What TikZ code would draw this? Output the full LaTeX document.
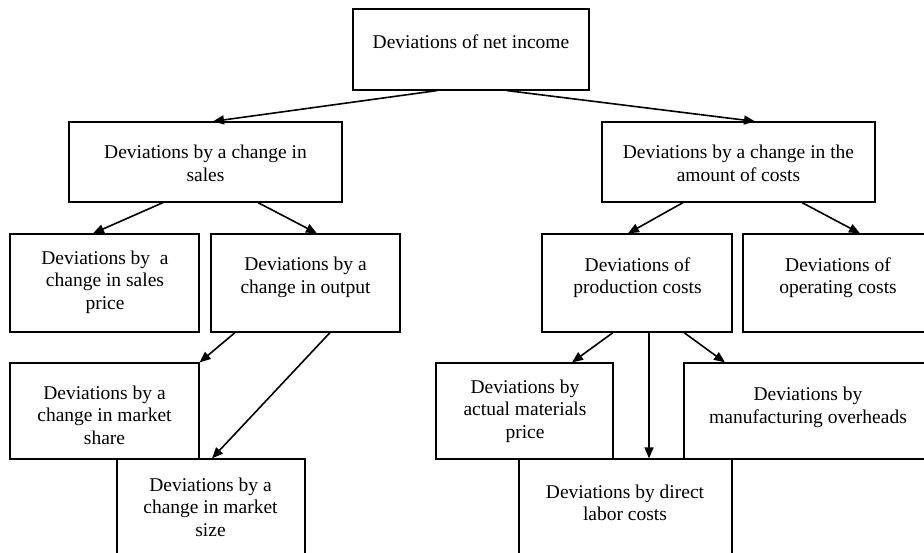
\documentclass[tikz,border=0pt]{standalone}
\usepackage{fontspec}
\setmainfont{Liberation Serif}
\usetikzlibrary{arrows.meta}
\tikzset{
  box/.style={draw, line width=1.2pt, inner sep=0pt, rectangle},
  txt/.style={align=center, inner sep=0pt, font=\fontsize{19.5}{22.5}\selectfont},
  arr/.style={line width=1.6pt, -{Triangle[length=11pt,width=9pt]}},
}
\begin{document}
\begin{tikzpicture}[x=1pt,y=-1pt]
\clip (0,0) rectangle (924,553);
\fill[white] (0,0) rectangle (924,553);
% boxes
\node[box, minimum width=236, minimum height=81] (top) at (471,49.5) {};
\node[box, minimum width=273, minimum height=80] (sales) at (205.5,162) {};
\node[box, minimum width=273, minimum height=80] (costs) at (738.5,162) {};
\node[box, minimum width=189, minimum height=98] (price) at (104.5,283) {};
\node[box, minimum width=189, minimum height=98] (output) at (305.5,283) {};
\node[box, minimum width=190, minimum height=98] (prod) at (637,283) {};
\node[box, minimum width=190, minimum height=98] (oper) at (838,283) {};
\node[box, minimum width=189, minimum height=96] (share) at (104.5,411) {};
\node[box, minimum width=188, minimum height=111] (size) at (211,514.5) {};
\node[box, minimum width=177, minimum height=96] (mat) at (524.5,411) {};
\node[box, minimum width=248, minimum height=96] (over) at (808,411) {};
\node[box, minimum width=213, minimum height=111] (labor) at (625.5,514.5) {};
% texts
\node[txt] (ttop) at (471,42) {Deviations of net income};
\node[txt] (tsales) at (205.5,163.5) {Deviations by a change in\\sales};
\node[txt] (tcosts) at (738.5,163.5) {Deviations by a change in the\\amount of costs};
\node[txt] (tprice) at (105,282) {Deviations by\ \ a\\change in sales\\price};
\node[txt] (toutput) at (305.5,277.5) {Deviations by a\\change in output};
\node[txt] (tprod) at (637.5,277.5) {Deviations of\\production costs};
\node[txt] (toper) at (838,277.5) {Deviations of\\operating costs};
\node[txt] (tshare) at (104.5,415) {Deviations by a\\change in market\\share};
\node[txt] (tsize) at (210.5,507) {Deviations by a\\change in market\\size};
\node[txt] (tmat) at (525,411) {Deviations by\\actual materials\\price};
\node[txt] (tover) at (808,407.5) {Deviations by\\manufacturing overheads};
\node[txt] (tlabor) at (625,503) {Deviations by direct\\labor costs};
% connectors
\draw[arr] ([xshift=-34pt]top.south) -- ([xshift=7.5pt]sales.north);
\draw[arr] ([xshift=36pt]top.south) -- ([xshift=16.5pt]costs.north);
\draw[arr] ([xshift=-42.5pt]sales.south) -- ([xshift=-11.5pt]price.north);
\draw[arr] ([xshift=52.5pt]sales.south) -- ([xshift=11.5pt]output.north);
\draw[arr] ([xshift=-55.5pt]costs.south) -- ([xshift=-9pt]prod.north);
\draw[arr] ([xshift=63.5pt]costs.south) -- ([xshift=22pt]oper.north);
\draw[arr] ([xshift=-70.5pt]output.south) -- (share.north east);
\draw[arr] ([xshift=24.5pt]output.south) -- ([xshift=1pt]size.north);
\draw[arr] ([xshift=-24pt]prod.south) -- ([xshift=47.5pt]mat.north);
\draw[arr] ([xshift=12pt]prod.south) -- ([xshift=23.5pt]labor.north);
\draw[arr] ([xshift=47pt]prod.south) -- ([xshift=-83pt]over.north);
\end{tikzpicture}
\end{document}
